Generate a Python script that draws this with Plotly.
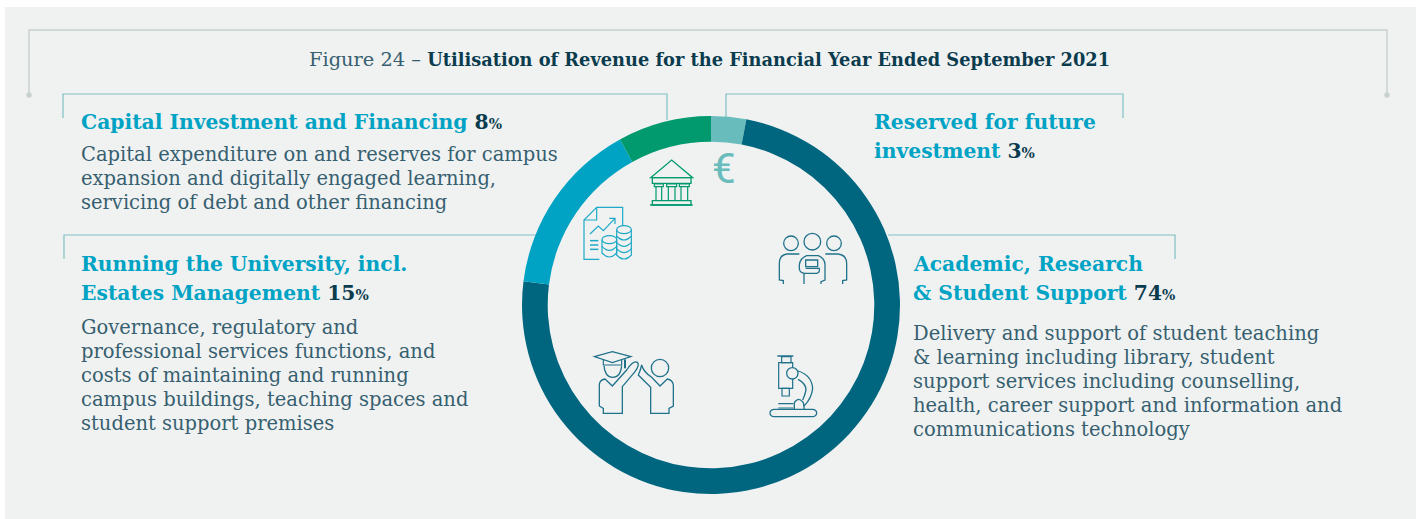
import re
import plotly.graph_objects as go

W, H = 1416, 519
categories = ["Reserved for future investment", "Academic, Research & Student Support",
              "Running the University, incl. Estates Management", "Capital Investment and Financing"]
shares = [3, 74, 15, 8]
colors = ["#69BCBC", "#00667F", "#00A3C4", "#009A6E"]

INK = "#0B3C4E"; BODY = "#36606F"; HEAD = "#00A3C4"
FONT = "DejaVu Serif"

title_plain = "Figure 24 – "
title_bold = "Utilisation of Revenue for the Financial Year Ended September 2021"

capital_body = ["Capital expenditure on and reserves for campus",
                "expansion and digitally engaged learning,",
                "servicing of debt and other financing"]
running_body = ["Governance, regulatory and", "professional services functions, and",
                "costs of maintaining and running", "campus buildings, teaching spaces and",
                "student support premises"]
academic_body = ["Delivery and support of student teaching", "& learning including library, student",
                 "support services including counselling,", "health, career support and information and",
                 "communications technology"]


def px(x): return x / W
def py(y): return 1 - y / H


def conv(path, ox=0.0, oy=0.0, k=1.0):
    out, isx = [], True
    for t in re.findall(r"[MLQCZ]|-?\d+\.?\d*", path):
        if t in "MLQCZ":
            out.append(t); isx = True
        else:
            v = float(t)
            out.append(f"{px(ox + v * k):.6f}" if isx else f"{py(oy + v * k):.6f}")
            isx = not isx
    res = []
    i = 0
    while i < len(out):
        if out[i] in "MLQCZ":
            res.append(out[i]); i += 1
        else:
            res.append(out[i] + "," + out[i + 1]); i += 2
    return " ".join(res)


shapes = [dict(type="rect", xref="paper", yref="paper", x0=px(5), x1=px(1416), y0=py(7), y1=py(519),
               fillcolor="#F0F2F2", line_width=0, layer="below")]


def stroke(path, color, width=1.3, ox=0, oy=0, k=1.0):
    shapes.append(dict(type="path", xref="paper", yref="paper", path=conv(path, ox, oy, k),
                       line=dict(color=color, width=width), fillcolor="rgba(0,0,0,0)", layer="below"))


def ring(cx, cy, rx, ry, color, width=1.3, ox=0, oy=0, k=1.0, fill="rgba(0,0,0,0)"):
    shapes.append(dict(type="circle", xref="paper", yref="paper",
                       x0=px(ox + (cx - rx) * k), x1=px(ox + (cx + rx) * k),
                       y0=py(oy + (cy - ry) * k), y1=py(oy + (cy + ry) * k),
                       line=dict(color=color, width=width), fillcolor=fill, layer="below"))


# brackets
GREY = "#C6D0CF"; TEAL = "#7FBFC1"
stroke("M 29 95 L 29 30 L 1387 30 L 1387 95", GREY, 1.4)
ring(29, 95, 2.5, 2.5, GREY, 0.5, fill=GREY)
ring(1387, 95, 2.5, 2.5, GREY, 0.5, fill=GREY)
stroke("M 63 118 L 63 94 L 667 94 L 667 120", TEAL, 1.2)
stroke("M 726 120 L 726 94 L 1123 94 L 1123 118", TEAL, 1.2)
stroke("M 64 259 L 64 235 L 536 235", TEAL, 1.2)
stroke("M 888 235 L 1175 235 L 1175 259", TEAL, 1.2)

# bank icon
G = "#009A6E"
Z1 = dict(ox=520, oy=90, k=1 / 3)
stroke("M 392 263 L 455 210 L 518 263 Z", G, 1.3, **Z1)
stroke("M 397 263 L 513 263 L 513 280 L 397 280 Z", G, 1.3, **Z1)
for a, b in [(403, 430), (440, 470), (478, 508)]:
    stroke(f"M {a} 282 L {b} 282 L {b} 290 L {a} 290 Z", G, 1.2, **Z1)
for a, b in [(408, 425), (445, 465), (483, 503)]:
    stroke(f"M {a} 290 L {a} 332 M {b} 290 L {b} 332", G, 1.2, **Z1)
stroke("M 397 332 L 513 332 L 513 345 L 397 345 Z", G, 1.3, **Z1)
stroke("M 390 345 L 518 345", G, 1.3, **Z1)

# document and coins icon
B = "#1FA9C7"
stroke("M 238 508 L 192 508 L 192 390 L 230 352 L 308 352 L 308 408", B, 1.2, **Z1)
stroke("M 230 352 L 230 390 L 192 390", B, 1.2, **Z1)
stroke("M 210 432 L 235 408 L 250 422 L 285 385 M 268 385 L 285 385 L 285 402", B, 1.2, **Z1)
for y in (452, 465, 478):
    stroke(f"M 210 {y} L 235 {y}", B, 1.5, **Z1)


def coins(cx, ytop, n, rx=22, ry=12, step=16):
    ring(cx, ytop, rx, ry, B, 1.2, **Z1)
    l, r = cx - rx, cx + rx
    for i in range(n):
        y = ytop + i * step
        stroke(f"M {l} {y} L {l} {y + step} Q {cx} {y + step + 2 * ry} {r} {y + step} L {r} {y}", B, 1.2, **Z1)


coins(268, 449, 2, step=20)
coins(312, 419, 4, step=19)

# people icon
P = "#20718A"
for c, r, y in [(813, 22, 460), (877, 25, 455), (942, 22, 460)]:
    ring(c, y, r, r, P, 1.3, **Z1)
stroke("M 838 492 L 800 492 Q 778 495 778 520 L 778 570 L 790 572 L 790 582", P, 1.3, **Z1)
stroke("M 916 492 L 955 492 Q 980 495 980 520 L 980 570 L 968 572 L 968 582", P, 1.3, **Z1)
stroke("M 852 582 L 852 550 Q 838 548 838 535 L 838 525 Q 840 505 860 497 L 895 497 Q 915 505 915 525 "
       "L 915 570 L 903 575 L 903 582", P, 1.3, **Z1)
stroke("M 857 510 L 893 510 L 893 530 L 857 530 Z", P, 1.3, **Z1)
stroke("M 852 550 L 890 550 Q 900 548 898 535 L 857 535", P, 1.3, **Z1)

# graduate icon
Z2 = dict(ox=560, oy=300, k=1 / 3)
stroke("M 103 170 L 157 155 L 213 170 L 157 188 Z", P, 1.2, **Z2)
stroke("M 130 180 L 130 195 L 185 195 L 185 180", P, 1.2, **Z2)
stroke("M 195 178 L 195 205", P, 2.0, **Z2)
stroke("M 132 197 Q 135 232 158 232 Q 182 232 185 197", P, 1.2, **Z2)
stroke("M 130 340 L 130 325 L 118 318 L 118 255 Q 118 240 135 237 L 157 258 L 200 210 Q 220 180 232 187 "
       "Q 240 195 225 215 L 187 260 L 187 340 Z", P, 1.3, **Z2)
ring(300, 204, 26, 26, P, 1.3, **Z2)
stroke("M 245 195 Q 240 215 235 225 L 272 262 L 272 340 L 327 340 L 327 325 L 340 318 L 340 255 "
       "Q 338 240 322 237 L 300 258 L 275 232 Q 250 215 245 195 Z", P, 1.3, **Z2)

# microscope icon
stroke("M 652 168 L 700 168", P, 1.5, **Z2)
stroke("M 665 170 L 693 170 L 693 188 L 665 188 Z", P, 1.2, **Z2)
stroke("M 656 188 L 698 188 L 698 265 L 656 265 Z", P, 1.2, **Z2)
stroke("M 666 265 L 688 265 L 688 288 L 666 288 Z", P, 1.2, **Z2)
ring(697, 220, 17, 17, P, 1.3, fill="#F0F2F2", **Z2)
stroke("M 714 213 Q 755 225 758 265 Q 755 295 732 318", P, 1.3, **Z2)
stroke("M 714 238 Q 738 250 738 270 Q 735 285 728 300", P, 1.3, **Z2)
stroke("M 641 328 L 759 328 Q 770 330 770 339 Q 770 348 759 350 L 641 350 Q 630 348 630 339 Q 630 330 641 328 Z",
       P, 1.3, **Z2)
stroke("M 655 311 L 700 311 M 655 324 L 700 324", P, 1.2, **Z2)
stroke("M 703 328 L 703 308 Q 716 288 730 308 L 733 328", P, 1.3, **Z2)

annotations = []


def label(x, y, text, size=19.5, color=BODY, weight=400, anchor="left", font=FONT):
    annotations.append(dict(x=px(x), y=py(y), xref="paper", yref="paper", text=text, showarrow=False,
                            xanchor=anchor, yanchor="middle", align="left",
                            font=dict(family=font, size=size, color=color, weight=weight),
                            borderpad=0, borderwidth=0))


def heading(x, y, text, pct=None):
    t = f"<b>{text}</b>"
    if pct is not None:
        t += f'<b><span style="color:{INK}"> {pct}</span><span style="color:{INK};font-size:14px">%</span></b>'
    label(x, y, t, size=20.3, color=HEAD)


label(309, 59, f'<span style="font-size:19.4px">{title_plain}</span>'
               f'<b><span style="color:{INK}">{title_bold}</span></b>', size=17.8)

heading(81, 122, "Capital Investment and Financing", shares[3])
for i, t in enumerate(capital_body):
    label(81, 154 + 24 * i, t)

heading(81, 264, "Running the University, incl.")
heading(81, 293, "Estates Management", shares[2])
for i, t in enumerate(running_body):
    label(81, 327 + 24 * i, t)

heading(874, 122, "Reserved for future")
heading(874, 151, "investment", shares[0])

heading(913, 264, "Academic, Research")
heading(913, 293, "& Student Support", shares[1])
for i, t in enumerate(academic_body):
    label(913, 333 + 24 * i, t)

label(724, 168, "€", size=42, color="#69BCBC", anchor="center", font="Roboto")

fig = go.Figure(go.Pie(labels=categories, values=shares, sort=False, direction="clockwise", rotation=0,
                       hole=0.864, marker=dict(colors=colors, line=dict(width=0)), textinfo="none",
                       hoverinfo="skip", showlegend=False,
                       domain=dict(x=[px(522), px(900)], y=[py(494), py(116)])))
fig.update_layout(width=W, height=H, margin=dict(l=0, r=0, t=0, b=0), paper_bgcolor="white",
                  plot_bgcolor="rgba(0,0,0,0)", shapes=shapes, annotations=annotations, showlegend=False)
fig.write_html("out.html", config={"displayModeBar": False},
               post_script="document.body.style.margin='0';")
